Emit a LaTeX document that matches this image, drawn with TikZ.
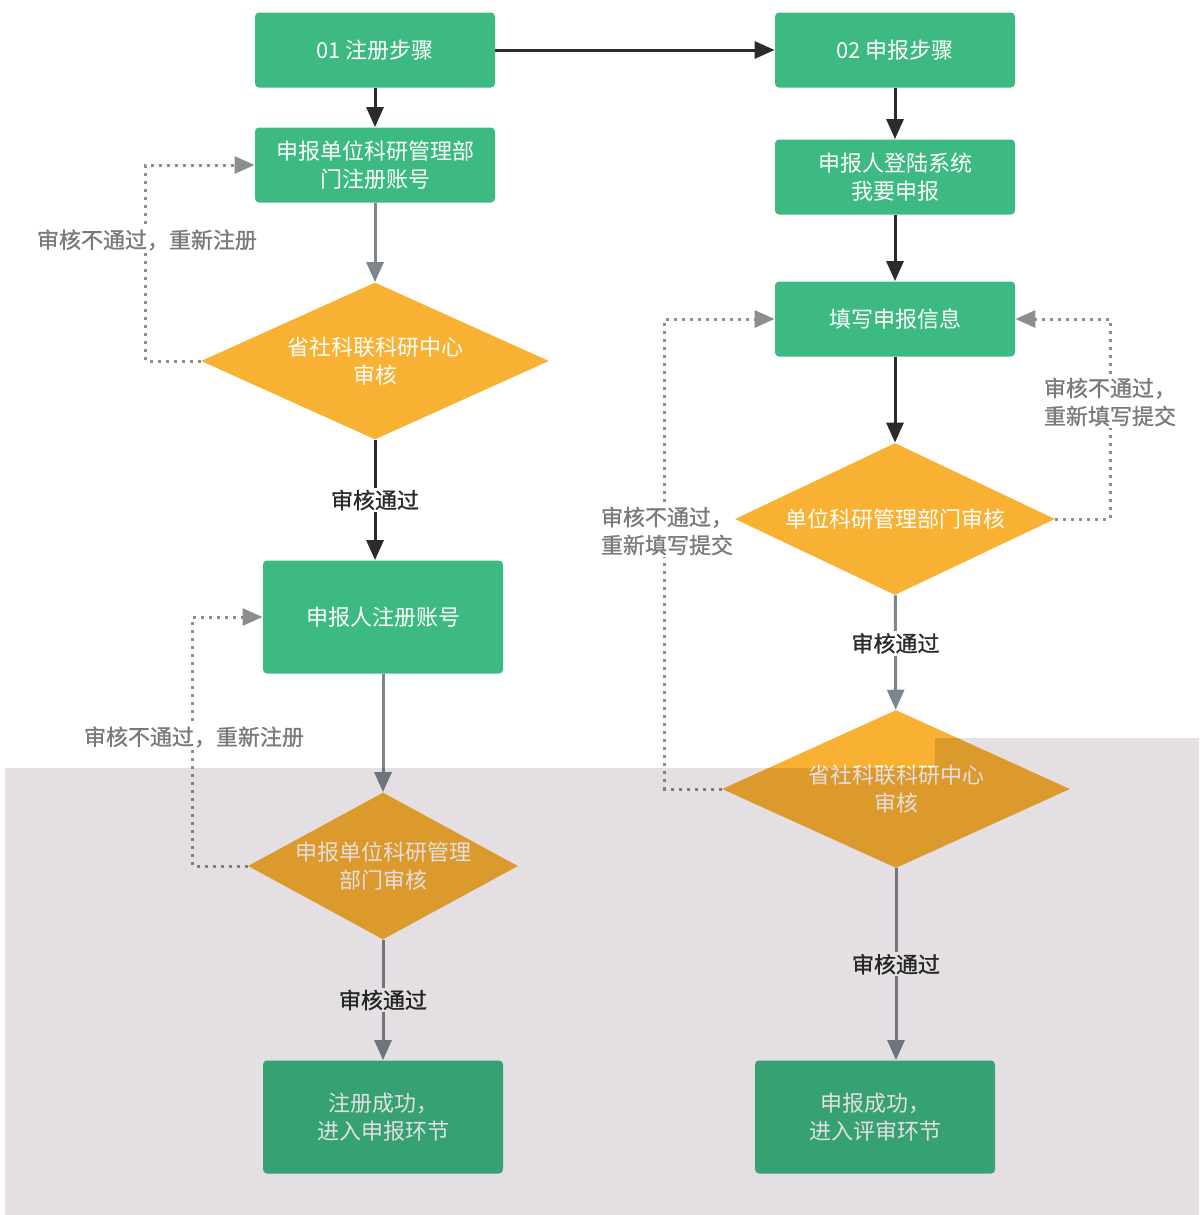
\documentclass[tikz,border=0pt]{standalone}
\usepackage{fontspec}
\newfontfamily\cjk{Noto Sans CJK SC}
\newfontfamily\cjknote[FakeBold=1]{Noto Sans CJK SC}
\usetikzlibrary{shapes.geometric,arrows.meta}

\definecolor{boxgreen}{HTML}{3DBA82}
\definecolor{checkorange}{HTML}{F8B133}
\definecolor{arrowdark}{HTML}{2B2B2B}
\definecolor{arrowgrey}{HTML}{7D868C}
\definecolor{dotgrey}{HTML}{8E8E8E}
\definecolor{labelgrey}{HTML}{7A7A7A}
\definecolor{shadegrey}{HTML}{E3DFE2}

\tikzstyle{stepbox}=[fill=boxgreen,rounded corners=2pt,minimum width=120pt,
    minimum height=37.5pt,inner sep=0pt,text=white,align=center]
\tikzstyle{tallbox}=[stepbox,minimum height=56.5pt]
\tikzstyle{check}=[diamond,fill=checkorange,inner xsep=-8pt,inner ysep=0pt,
    aspect=2.1,text=white,align=center]
\tikzstyle{flow}=[line width=1.5pt,draw=arrowdark,
    -{Triangle[length=10pt,width=8.5pt]}]
\tikzstyle{flow grey}=[flow,draw=arrowgrey]
\tikzstyle{reject}=[line width=1.5pt,draw=dotgrey,
    dash pattern=on 1.5pt off 2.5pt,-{Triangle[length=10pt,width=8.5pt]}]
\tikzstyle{passlabel}=[fill=white,inner sep=1pt,text=arrowdark,
    font=\cjknote\fontsize{11}{14}\selectfont]
\tikzstyle{failnote}=[fill=white,text=labelgrey,align=left,inner sep=1pt,
    font=\cjknote\fontsize{11}{14}\selectfont]
\newcommand{\flow}[3][]{\draw[flow,#1] (#2) -- (#3);}

\begin{document}
\begin{tikzpicture}[x=0.5pt,y=-0.5pt,font=\cjk\fontsize{11}{14}\selectfont]
    \useasboundingbox (0,0) rectangle (1199,1215);
    %
    % registration column
    \node[stepbox] (regstep) at (375,50) {01 注册步骤};
    \node[stepbox] (deptreg) at (375,165) {申报单位科研管理部\\门注册账号};
    \node[check,minimum width=174pt,minimum height=78.5pt] (centercheck)
        at (375,361) {省社科联科研中心\\审核};
    \node[tallbox] (userreg) at (383,617) {申报人注册账号};
    \node[check,aspect=1.84,minimum width=135pt,minimum height=73.5pt]
        (deptcheck) at (383,866) {申报单位科研管理\\部门审核};
    \node[tallbox] (regdone) at (383,1117) {注册成功，\\进入申报环节};
    %
    % application column
    \node[stepbox] (appstep) at (895,50) {02 申报步骤};
    \node[stepbox] (login) at (895,177) {申报人登陆系统\\我要申报};
    \node[stepbox] (fillin) at (895,319) {填写申报信息};
    \node[check,minimum width=160pt,minimum height=76pt] (unitcheck)
        at (895,519) {单位科研管理部门审核};
    \node[check,minimum width=174pt,minimum height=79pt] (provcheck)
        at (896,789) {省社科联科研中心\\审核};
    \node[tallbox] (appdone) at (875,1117) {申报成功，\\进入评审环节};
    %
    \flow{regstep}{appstep}
    \flow{regstep}{deptreg}
    \flow[flow grey]{deptreg}{centercheck}
    \draw[flow] (centercheck.south) -- node[passlabel] {审核通过}
        (centercheck.south |- userreg.north);
    \flow[flow grey]{userreg}{deptcheck}
    \draw[flow grey] (deptcheck) -- node[passlabel] {审核通过} (regdone);
    %
    \flow{appstep}{login}
    \flow{login}{fillin}
    \flow{fillin}{unitcheck}
    \draw[flow grey] (unitcheck) -- node[passlabel,pos=0.42] {审核通过} (provcheck);
    \draw[flow grey] (provcheck.south) -- node[passlabel,pos=0.5] {审核通过}
        (provcheck.south |- appdone.north);
    %
    \draw[reject] (centercheck.west) -- ++(-55,0) |- (deptreg.west);
    \draw[reject] (deptcheck.west) -- ++(-55,0) |- (userreg.west);
    \draw[reject] (unitcheck.east) -- ++(55,0) |- (fillin.east);
    \draw[reject] (provcheck.west) -- ++(-57,0) |- (fillin.west);
    %
    \node[failnote] (fail1) at (147,240) {审核不通过，重新注册};
    \node[failnote] (fail2) at (194,737) {审核不通过，重新注册};
    \node[failnote] (fail3) at (1110,402) {审核不通过，\\重新填写提交};
    \node[failnote] (fail4) at (667,531) {审核不通过，\\重新填写提交};
    %
    % shaded lower part of the sheet
    \begin{scope}[blend mode=multiply]
        \fill[shadegrey] (5,768) -- (935,768) -- (935,738) -- (1199,738)
            -- (1199,1215) -- (5,1215) -- cycle;
    \end{scope}
\end{tikzpicture}
\end{document}
